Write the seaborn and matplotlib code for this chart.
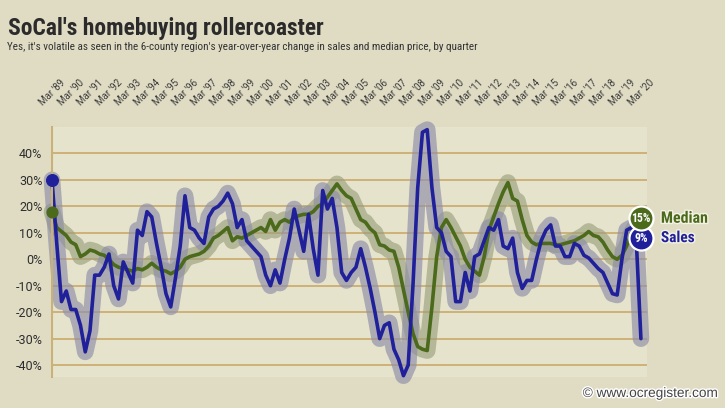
import numpy as np
import pandas as pd
import seaborn as sns
import matplotlib.pyplot as plt
from matplotlib import font_manager, patheffects

# Year-over-year change by quarter, Q1 1989 .. Q1 2020
sales = [30, 6, -16, -12, -19, -19, -25, -35, -27, -6,
         -6, -3, 2, -10, -15, -1, -5, -9, 11, 9,
         18, 16, 6, -3, -13, -18, -7, 5, 24, 12,
         11, 8, 6, 16, 19, 20, 22, 25, 21, 12,
         15, 7, 5, 3, 1, -6, -10, -4, -9, 0,
         8, 19, 11, 3, 17, 4, -6, 26, 19, 23,
         12, -5, -8, -5, -3, 4, -3, -11, -20, -30,
         -25, -24, -34, -38, -44, -40, -10, 27, 48, 49,
         27, 12, 10, 3, 1, -16, -16, -5, -12, 1,
         2, 7, 12, 11, 15, 5, 4, 8, -5, -11,
         -8, -8, 0, 7, 11, 13, 5, 5, 1, 1,
         6, 5, 1.5, 0.5, -1.5, -3.5, -5, -9, -13, -13.5,
         0, 11, 12, 8, -30]
median = [18, 12, 10.5, 9, 6.5, 5.5, 1, 2, 3.5, 3,
          2, 1.5, 0, -2, -3, -3.5, -4, -4.5, -3.5, -4,
          -3, -1.5, -3, -4, -4.5, -5.5, -4.5, -3, 0, 1,
          1.5, 2, 3, 5, 8, 9, 10.5, 12, 7, 8.5,
          8, 9, 10, 11, 12, 10.5, 15, 11, 14, 15,
          14, 16, 16.5, 17, 17, 18, 20, 21, 23.5, 26,
          28.5, 26, 24, 23, 19, 15, 14, 11.5, 10, 5.5,
          5, 3.5, 3, -3, -11.5, -20, -28, -33, -34, -34.5,
          -18, 1, 12, 15, 12, 8.5, 5, 0, -3, -4.5,
          -6, 1, 11, 16, 21, 25.5, 29, 23, 22, 15,
          9, 6.5, 5.5, 6, 6, 6, 5.5, 5.5, 6, 6.5,
          7, 8, 9, 10.5, 9, 8.5, 6.5, 3.5, 1, 0,
          1.5, 5, 10, 13, 15]
end_labels = ['Median', 'Sales']
end_values = [15, 9]
tick_years = list(range(1989, 2021))
tick_labels = [f"Mar '{y % 100:02d}" for y in tick_years]
y_ticks = [-40, -30, -20, -10, 0, 10, 20, 30, 40]

quarters = pd.period_range('1989Q1', periods=len(sales), freq='Q')
df = pd.DataFrame({'x': quarters.year + (quarters.quarter - 1) / 4,
                   'sales': sales, 'median': median})

sns.set_theme(style='white')
plt.rcParams['font.family'] = ['Roboto', 'DejaVu Sans']

# look for a condensed face, the original uses one
fl = font_manager.fontManager.ttflist
names = {f.name for f in fl}
narrow, stretch = 'Roboto', 'normal'
for cand in ['Roboto Condensed', 'Liberation Sans Narrow', 'Open Sans Condensed']:
    if cand in names:
        narrow = cand
        break
else:
    if any(f.name == 'DejaVu Sans' and f.stretch in ('condensed', 'semi-condensed') for f in fl):
        narrow, stretch = 'DejaVu Sans', 'condensed'

bg = '#e0dcc4'
blue, green = '#20209a', '#4b6a1c'

fig = plt.figure(figsize=(7.25, 4.08), dpi=100, facecolor=bg)
ax = fig.add_axes([52 / 725, 1 - 377 / 408, (647 - 52) / 725, (377 - 127) / 408])
ax.set_facecolor('#e6e3cc')

# halos first, then the lines
sns.lineplot(data=df, x='x', y='median', ax=ax, color='#9aa07c', alpha=0.65, linewidth=12,
             solid_capstyle='round', solid_joinstyle='round', clip_on=False, legend=False, errorbar=None)
sns.lineplot(data=df, x='x', y='sales', ax=ax, color='#8e8ea8', alpha=0.65, linewidth=12,
             solid_capstyle='round', solid_joinstyle='round', clip_on=False, legend=False, errorbar=None)
sns.lineplot(data=df, x='x', y='median', ax=ax, color=green, linewidth=2.6,
             solid_joinstyle='round', clip_on=False, legend=False, errorbar=None)
sns.lineplot(data=df, x='x', y='sales', ax=ax, color=blue, linewidth=2.6,
             solid_joinstyle='round', clip_on=False, legend=False, errorbar=None)

# start dots
ax.scatter(df['x'].iloc[0], sales[0], s=70, color=blue, zorder=6, clip_on=False)
ax.scatter(df['x'].iloc[0], median[0], s=60, color=green, zorder=6, clip_on=False)

# end labels (bubble positions nudged apart like the original)
last_x = df['x'].iloc[-1]
label_y = [15.5, 8]
fit = []
for lab, val, yy, col, z in [(end_labels[1], end_values[1], label_y[1], blue, 7),
                             (end_labels[0], end_values[0], label_y[0], green, 8)]:
    ax.scatter(last_x, yy, s=300, color=col, edgecolor='white', linewidth=1.6, zorder=z, clip_on=False)
    ax.text(last_x, yy, f'{val}%', color='white', fontsize=8.5, fontweight='bold',
            ha='center', va='center', zorder=z, family=narrow, fontstretch=stretch)
    t = ax.text(last_x + 1.05, yy, lab, color=col, fontsize=11, fontweight='bold',
                ha='left', va='center', zorder=z, family=narrow, fontstretch=stretch,
                path_effects=[patheffects.withStroke(linewidth=2, foreground='#f4f2e4')])
    fit.append((t, 47 if lab == 'Median' else 34))

ax.set_xlim(1989, 2020.32)
ax.set_ylim(-44.5, 50)
ax.set(xlabel='', ylabel='')

ax.set_yticks(y_ticks)
ax.set_yticklabels([f'{v}%' for v in y_ticks])
ax.set_xticks(tick_years)
ax.set_xticklabels(tick_labels, rotation=45, ha='center')
ax.tick_params(axis='x', top=True, bottom=False, labeltop=True, labelbottom=False,
               length=0, pad=14, labelsize=7, labelcolor='#3a3a3a')
ax.tick_params(axis='y', length=0, pad=7, labelsize=9, labelcolor='#2d2d2d')

ax.yaxis.grid(True, color='#cba86a', linewidth=1.2)
ax.xaxis.grid(False)
for s in ['top', 'right', 'bottom']:
    ax.spines[s].set_visible(False)
ax.spines['left'].set_color('#c9b27a')
ax.spines['left'].set_linewidth(1.5)

title = fig.text(8 / 725, 1 - 35 / 408, "SoCal's homebuying rollercoaster", fontsize=18,
                 fontweight='bold', color='#2b2b2b', family=narrow, fontstretch=stretch, va='baseline')
sub = fig.text(7 / 725, 1 - 50 / 408,
               "Yes, it's volatile as seen in the 6-county region's year-over-year change in sales and median price, by quarter",
               fontsize=8, color='#333333', family=narrow, fontstretch=stretch, va='baseline')
mark = fig.text(718 / 725, 1 - 397 / 408, '© www.ocregister.com', fontsize=9, color='#444444',
                ha='right', va='baseline', family='Liberation Sans',
                path_effects=[patheffects.withStroke(linewidth=2, foreground='white')])
# widths a bit above the original, the installed faces are not condensed
fit += [(title, 315), (sub, 470), (mark, 135)]

# scale font sizes so the widths come close to the original
fig.canvas.draw()
r = fig.canvas.get_renderer()
for t, w in fit:
    cur = t.get_window_extent(r).width
    t.set_fontsize(t.get_fontsize() * w / cur)

fig.savefig('out.png', dpi=100, facecolor=bg)
